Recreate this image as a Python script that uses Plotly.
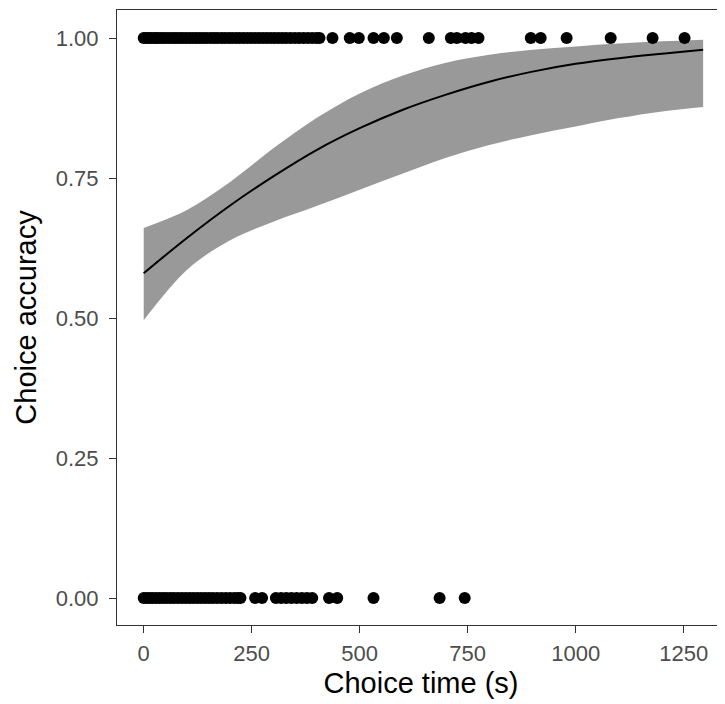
import plotly.graph_objects as go

# points at accuracy = 1 (choice time, s)
t_correct = [0, 6, 12, 18, 25, 31, 38, 45, 52, 60, 68, 75, 83, 90, 98, 106, 114, 122,
             130, 138, 146, 155, 163, 171, 180, 188, 197, 205, 214, 222, 231, 240,
             249, 258, 267, 276, 285, 294, 303, 312, 321, 330, 340, 350, 360, 370,
             380, 390, 400, 407, 437, 477, 498, 532, 556, 586, 660, 711, 725, 745,
             759, 775, 896, 919, 979, 1081, 1178, 1252]
# points at accuracy = 0
t_wrong = [0, 7, 14, 21, 29, 37, 45, 53, 62, 70, 79, 88, 97, 106, 115, 124, 133, 142,
           151, 160, 170, 180, 190, 200, 210, 218, 224, 258, 274, 306, 318, 330, 342,
           354, 366, 378, 390, 429, 448, 532, 685, 743]

# fitted logistic curve and its confidence band
fit_x = [0, 100, 200, 300, 400, 500, 600, 700, 800, 900, 1000, 1100, 1200, 1295]
fit_y = [0.580, 0.643, 0.701, 0.753, 0.800, 0.839, 0.872, 0.899, 0.922, 0.940,
         0.954, 0.964, 0.972, 0.979]
fit_lo = [0.496, 0.586, 0.639, 0.672, 0.700, 0.729, 0.758, 0.786, 0.809, 0.827,
          0.842, 0.857, 0.869, 0.877]
fit_hi = [0.661, 0.693, 0.743, 0.803, 0.857, 0.901, 0.933, 0.956, 0.970, 0.979,
          0.985, 0.990, 0.994, 0.997]

x_ticks = [0, 250, 500, 750, 1000, 1250]
y_ticks = [0, 0.25, 0.5, 0.75, 1.0]

fig = go.Figure()
fig.add_trace(go.Scatter(x=fit_x, y=fit_lo, mode="lines",
                         line=dict(width=0, shape="spline"), hoverinfo="skip"))
fig.add_trace(go.Scatter(x=fit_x, y=fit_hi, mode="lines", fill="tonexty",
                         fillcolor="#999999", line=dict(width=0, shape="spline"),
                         hoverinfo="skip"))
fig.add_trace(go.Scatter(x=fit_x, y=fit_y, mode="lines",
                         line=dict(color="black", width=2, shape="spline")))
fig.add_trace(go.Scatter(x=t_correct, y=[1] * len(t_correct), mode="markers",
                         marker=dict(color="black", size=12)))
fig.add_trace(go.Scatter(x=t_wrong, y=[0] * len(t_wrong), mode="markers",
                         marker=dict(color="black", size=12)))

axis = dict(showline=True, mirror=True, linecolor="#333333", linewidth=1,
            ticks="outside", ticklen=7, tickcolor="#333333", showgrid=False,
            zeroline=False, automargin=False,
            tickfont=dict(size=22, color="#4d4d4d"))
# the page body adds an 8px margin, so the figure is 8px smaller than the window
fig.update_layout(
    width=717, height=696, showlegend=False,
    plot_bgcolor="white", paper_bgcolor="white",
    font=dict(family="Liberation Sans, Arial, sans-serif"),
    margin=dict(l=109, r=0, t=2, b=79),
    xaxis=dict(axis, range=[-61.8, 1345.6], tickvals=x_ticks, ticklabelstandoff=2,
               title=dict(text="Choice time (s)", font=dict(size=29, color="black"), standoff=7)),
    yaxis=dict(axis, range=[-0.048, 1.05], tickvals=y_ticks, tickformat=".2f",
               ticklabelstandoff=6,
               title=dict(text="Choice accuracy", font=dict(size=29, color="black"), standoff=10)),
)

fig.write_html("out.html")
